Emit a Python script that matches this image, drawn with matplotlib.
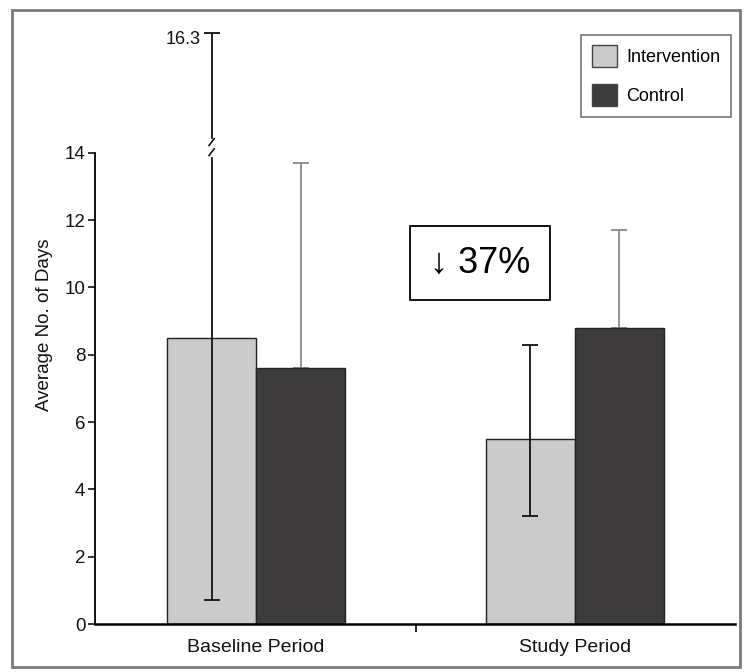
import matplotlib
matplotlib.use("Agg")
import matplotlib.pyplot as plt
from matplotlib.patches import Rectangle, Patch

# ---- data ----
periods = ["Baseline Period", "Study Period"]
intervention_mean = [8.5, 5.5]
intervention_low = [0.7, 3.2]
intervention_high = [16.3, 8.3]
control_mean = [7.6, 8.8]
control_high = [13.7, 11.7]
y_ticks = [0, 2, 4, 6, 8, 10, 12, 14]
annotation = "\u2193 37%"

# ---- style ----
FONT = ["Liberation Sans", "DejaVu Sans"]

BREAK_AT = 14.0
ABOVE_SCALE = 1.55  # display stretch above the axis break


def disp(v):
    return v if v <= BREAK_AT else BREAK_AT + (v - BREAK_AT) * ABOVE_SCALE


fig = plt.figure(figsize=(7.44, 6.72), dpi=100)
ax = fig.add_axes([0.1277, 0.0714, 0.8603, 0.8914])

x = [0, 1]
w = 0.279
int_col = "#cbcbcb"
ctl_col = "#3d3b3b"

xi = [p - w / 2 for p in x]
xc = [p + w / 2 for p in x]
ax.bar(xi, intervention_mean, width=w, color=int_col, edgecolor="#222222", linewidth=1.0, zorder=2)
ax.bar(xc, control_mean, width=w, color=ctl_col, edgecolor="#222222", linewidth=1.0, zorder=2)

# intervention error bars (black)
hi_disp = [disp(v) for v in intervention_high]
m_disp = intervention_mean
ax.errorbar(xi, m_disp,
            yerr=[[m - l for m, l in zip(intervention_mean, intervention_low)],
                  [h - m for h, m in zip(hi_disp, m_disp)]],
            fmt="none", ecolor="#111111", elinewidth=1.3, capsize=5.5, capthick=1.3, zorder=3)
# control error bars (gray, upper)
ax.errorbar(xc, control_mean,
            yerr=[[0, 0], [h - m for h, m in zip(control_high, control_mean)]],
            fmt="none", ecolor="#8a8a8a", elinewidth=1.3, capsize=5.5, capthick=1.3, zorder=1)

# break mark on the long error bar
bx = xi[0]
ax.plot([bx, bx], [BREAK_AT - 0.05, BREAK_AT + 0.35], color="white", lw=3, zorder=4)
ax.plot([bx - 0.008, bx + 0.008], [BREAK_AT - 0.08, BREAK_AT + 0.12], color="#111111", lw=1.2, zorder=5)
ax.plot([bx - 0.008, bx + 0.008], [BREAK_AT + 0.22, BREAK_AT + 0.42], color="#111111", lw=1.2, zorder=5)
ax.text(bx - 0.035, hi_disp[0] + 0.05, f"{intervention_high[0]:.1f}", ha="right", va="top",
        fontsize=13, family=FONT, color="#111111")

ax.set_xlim(-0.505, 1.502)
ax.set_ylim(0, 17.8)
ax.set_yticks(y_ticks)
ax.set_yticklabels([str(t) for t in y_ticks], family=FONT, fontsize=13.5)
ax.set_xticks([0.5])
ax.set_xticklabels([""])
for p, lab in zip(x, periods):
    ax.text(p, -0.45, lab, ha="center", va="top", fontsize=14, family=FONT,
            transform=ax.transData, color="#111111")
ax.tick_params(axis="y", direction="out", length=5, width=1.2, pad=2, colors="#111111")
ax.tick_params(axis="x", direction="out", length=6, width=1.2)

for s in ["top", "right"]:
    ax.spines[s].set_visible(False)
ax.spines["left"].set_bounds(0, BREAK_AT)
ax.spines["left"].set_linewidth(1.3)
ax.spines["bottom"].set_linewidth(1.8)
ax.set_ylabel("Average No. of Days", family=FONT, fontsize=13.5, labelpad=8, color="#111111")

leg = ax.legend(handles=[Patch(facecolor=int_col, edgecolor="#444444", label="Intervention"),
                         Patch(facecolor=ctl_col, edgecolor="#444444", label="Control")],
                loc="upper right", bbox_to_anchor=(1.0, 0.99), frameon=True, fancybox=False,
                edgecolor="#555555", prop={"family": FONT, "size": 13},
                handlelength=1.4, handleheight=1.5, borderpad=0.6, labelspacing=0.9,
                handletextpad=0.5, borderaxespad=0.2)
leg.get_frame().set_linewidth(1.2)

# annotation box
ax.text(0.702, 10.73, annotation, ha="center", va="center", fontsize=26,
        family=["Liberation Sans", "DejaVu Sans"],
        bbox=dict(boxstyle="square,pad=0.55", facecolor="white", edgecolor="black", linewidth=1.3))

# outer frame
fig.patches.append(Rectangle((0.016, 0.008), 0.978, 0.977, transform=fig.transFigure,
                             fill=False, edgecolor="#7a7a7a", linewidth=2))

fig.savefig("out.png", dpi=100)
